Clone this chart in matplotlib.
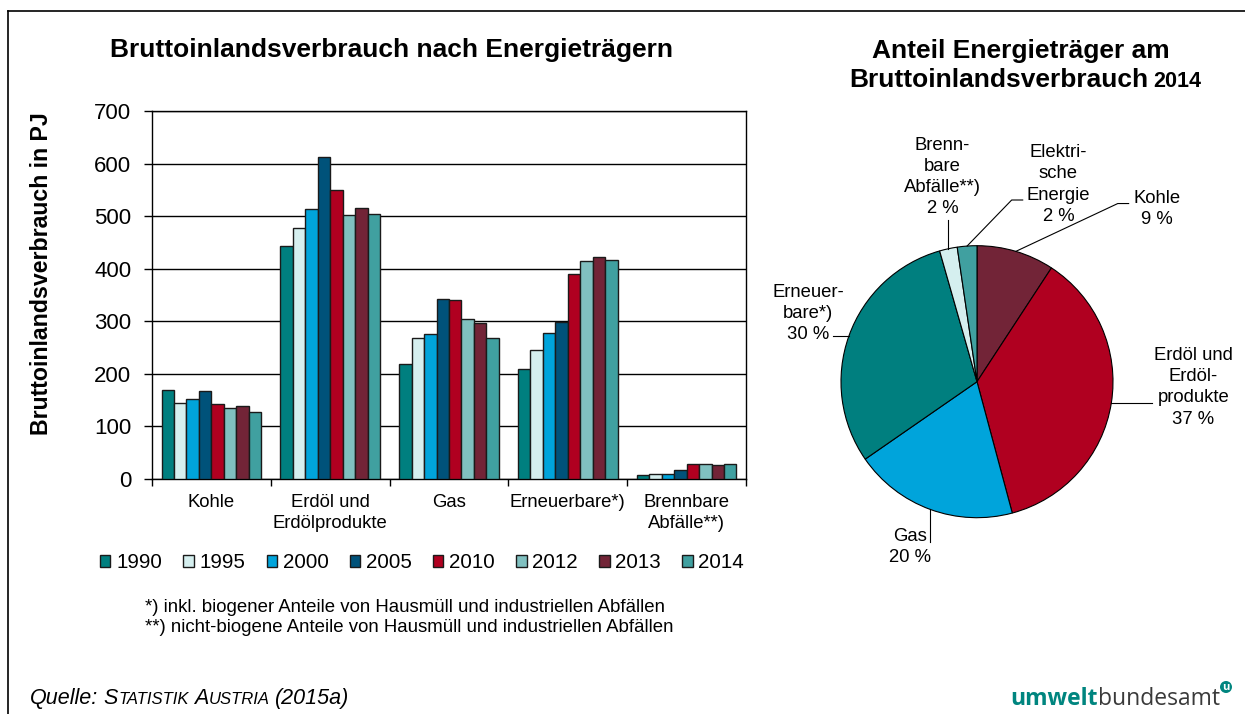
import matplotlib
matplotlib.use("Agg")
import matplotlib.pyplot as plt
import numpy as np
from matplotlib.lines import Line2D
from matplotlib.patches import Circle

plt.rcParams["font.family"] = ["Liberation Sans", "DejaVu Sans"]

# --- data -------------------------------------------------------------
categories = ["Kohle", "Erdöl und\nErdölprodukte", "Gas", "Erneuerbare*)", "Brennbare\nAbfälle**)"]
years = ["1990", "1995", "2000", "2005", "2010", "2012", "2013", "2014"]
kohle = [170, 145, 153, 168, 142, 136, 138, 127]
erdoel = [444, 477, 513, 612, 549, 503, 515, 504]
gas = [219, 268, 275, 342, 340, 305, 296, 269]
erneuerbare = [210, 246, 277, 298, 389, 415, 423, 416]
brennbare = [8, 9, 10, 18, 29, 29, 27, 29]
year_colors = ["#007F7F", "#D5EFEF", "#00A4DB", "#00527A", "#B00020", "#80C0C0", "#722437", "#40A0A0"]

pie_names = ["Kohle", "Erdöl und\nErdöl-\nprodukte", "Gas", "Erneuer-\nbare*)",
             "Brenn-\nbare\nAbfälle**)", "Elektri-\nsche\nEnergie"]
pie_values = [127, 504, 269, 416, 29, 32]  # PJ 2014
pie_colors = ["#722437", "#B00020", "#00A4DB", "#007F7F", "#D5EFEF", "#40A0A0"]

W, H = 1245, 714


def fx(px):
    return px / W


def fy(py):
    return 1 - py / H


fig = plt.figure(figsize=(W / 100, H / 100), dpi=100)
fig.patch.set_facecolor("white")

# outer frame (top and left edge)
fig.add_artist(Line2D([fx(8), fx(8)], [fy(11), 0], color="black", lw=1.2, transform=fig.transFigure))
fig.add_artist(Line2D([fx(8), 1], [fy(11), fy(11)], color="black", lw=1.2, transform=fig.transFigure))

# --- bar chart --------------------------------------------------------
ax = fig.add_axes([fx(152), fy(479), fx(746) - fx(152), fy(111) - fy(479)])
series = np.array([kohle, erdoel, gas, erneuerbare, brennbare]).T
x = np.arange(len(categories))
w = 0.105
for i, yr in enumerate(years):
    ax.bar(x + (i - 3.5) * w, series[i], width=w, color=year_colors[i],
           edgecolor="#1a1a1a", linewidth=1.0, label=yr, zorder=3)

ax.set_xlim(-0.5, len(categories) - 0.5)
ax.set_ylim(0, 700)
ax.set_yticks(range(0, 701, 100))
ax.yaxis.grid(True, color="black", linewidth=1.0, zorder=0)
ax.tick_params(axis="y", direction="out", length=6, width=1, pad=9, labelsize=16)
ax.set_xticks(x)
ax.set_xticklabels(categories, fontsize=13.3, linespacing=1.3)
ax.tick_params(axis="x", which="major", length=0, pad=11)
ax.set_xticks(np.arange(-0.5, len(categories), 1.0), minor=True)
ax.tick_params(axis="x", which="minor", direction="out", length=5, width=1)
for s in ax.spines.values():
    s.set_color("black")
    s.set_linewidth(1.0)

fig.text(fx(391), fy(56.7), "Bruttoinlandsverbrauch nach Energieträgern",
         ha="center", va="baseline", fontsize=19, fontweight="bold")
fig.text(fx(42), fy(274), "Bruttoinlandsverbrauch in PJ", rotation=90,
         ha="center", va="center", fontsize=16.7, fontweight="bold")

ax.legend(ncol=8, loc="center left", bbox_to_anchor=(fx(100), fy(563)),
          bbox_transform=fig.transFigure, frameon=False, fontsize=14.8,
          handlelength=0.5, handleheight=0.5, handletextpad=0.28,
          columnspacing=1.04, borderpad=0, borderaxespad=0)

fig.text(fx(145), fy(607), "*) inkl. biogener Anteile von Hausmüll und industriellen Abfällen",
         ha="left", va="center", fontsize=13.4)
fig.text(fx(145), fy(628), "**) nicht-biogene Anteile von Hausmüll und industriellen Abfällen",
         ha="left", va="center", fontsize=13.4)

# --- pie chart --------------------------------------------------------
cx, cy, r = 977, 381.7, 136
pax = fig.add_axes([fx(cx - r), fy(cy + r), fx(2 * r), 2 * r / H])
wedges, _ = pax.pie(pie_values, colors=pie_colors, startangle=90, counterclock=False,
                    wedgeprops=dict(edgecolor="black", linewidth=0.8))
pax.set_xlim(-1, 1)
pax.set_ylim(-1, 1)
pax.axis("off")

total = sum(pie_values)
# label centre, optional knee, leader end (pie data units)
label_layout = [
    ((1.325, 1.27), (1.035, 1.31), (1.115, 1.31)),
    ((1.59, -0.04), None, (1.29, -0.166)),
    ((-0.49, -1.215), None, (-0.34, -1.175)),
    ((-1.243, 0.50), None, (-1.06, 0.32)),
    ((-0.255, 1.505), None, (-0.21, 1.19)),
    ((0.598, 1.45), (0.255, 1.336), (0.336, 1.336)),
]
for wdg, name, val, (txy, knee, end) in zip(wedges, pie_names, pie_values, label_layout):
    mid = np.deg2rad((wdg.theta1 + wdg.theta2) / 2)
    ex, ey = np.cos(mid), np.sin(mid)
    if knee is None:
        if abs(end[0] - ex) < abs(end[1] - ey) and abs(end[0] - ex) < 0.05:
            pts = [(ex, ey), (ex, end[1])]
        elif abs(end[1] - ey) < 0.05:
            pts = [(ex, ey), (end[0], ey)]
        else:
            pts = [(ex, ey), end]
    else:
        pts = [(ex, ey), knee, end]
    xs, ys = zip(*pts)
    pax.plot(xs, ys, color="black", lw=0.8, clip_on=False)
    pct = int(round(val / total * 100))
    pax.text(txy[0], txy[1], f"{name}\n{pct} %", ha="center", va="center",
             multialignment="center", fontsize=13.3, linespacing=1.33, clip_on=False)

fig.text(fx(1021), fy(58.3), "Anteil Energieträger am", ha="center", va="baseline",
         fontsize=19, fontweight="bold")
fig.text(fx(1148), fy(87.3), "Bruttoinlandsverbrauch", ha="right", va="baseline",
         fontsize=19, fontweight="bold")
fig.text(fx(1153), fy(87.3), "2014", ha="left", va="baseline",
         fontsize=15.5, fontweight="bold")

# --- footer -----------------------------------------------------------
renderer = fig.canvas.get_renderer()


def draw_runs(xpx, ypx, runs):
    for text, gap, kw in runs:
        t = fig.text(fx(xpx), fy(ypx), text, ha="left", va="baseline", **kw)
        xpx += t.get_window_extent(renderer).width + gap
    return xpx


it = dict(style="italic")
draw_runs(30, 704, [
    ("Quelle:", 5, dict(fontsize=15.5, **it)),
    ("S", 0.5, dict(fontsize=15.5, **it)),
    ("TATISTIK", 5, dict(fontsize=12, **it)),
    ("A", 0.5, dict(fontsize=15.5, **it)),
    ("USTRIA", 5, dict(fontsize=12, **it)),
    ("(2015a)", 0, dict(fontsize=15.5, **it)),
])

end_x = draw_runs(1010, 705, [
    ("umwelt", 0.5, dict(fontsize=16.5, fontweight="bold", color="#00857F", family="Open Sans")),
    ("bundesamt", 0, dict(fontsize=16.5, color="#3a3a3a", family="Open Sans")),
])
ux, uy = end_x + 6, 687
fig.add_artist(Circle((ux / 100, (H - uy) / 100), radius=0.06, transform=fig.dpi_scale_trans,
                      facecolor="#00857F", edgecolor="none"))
fig.text(fx(ux), fy(uy + 0.5), "u", ha="center", va="center", fontsize=8,
         fontweight="bold", color="white", family="Open Sans")

fig.savefig("out.png", dpi=100)
